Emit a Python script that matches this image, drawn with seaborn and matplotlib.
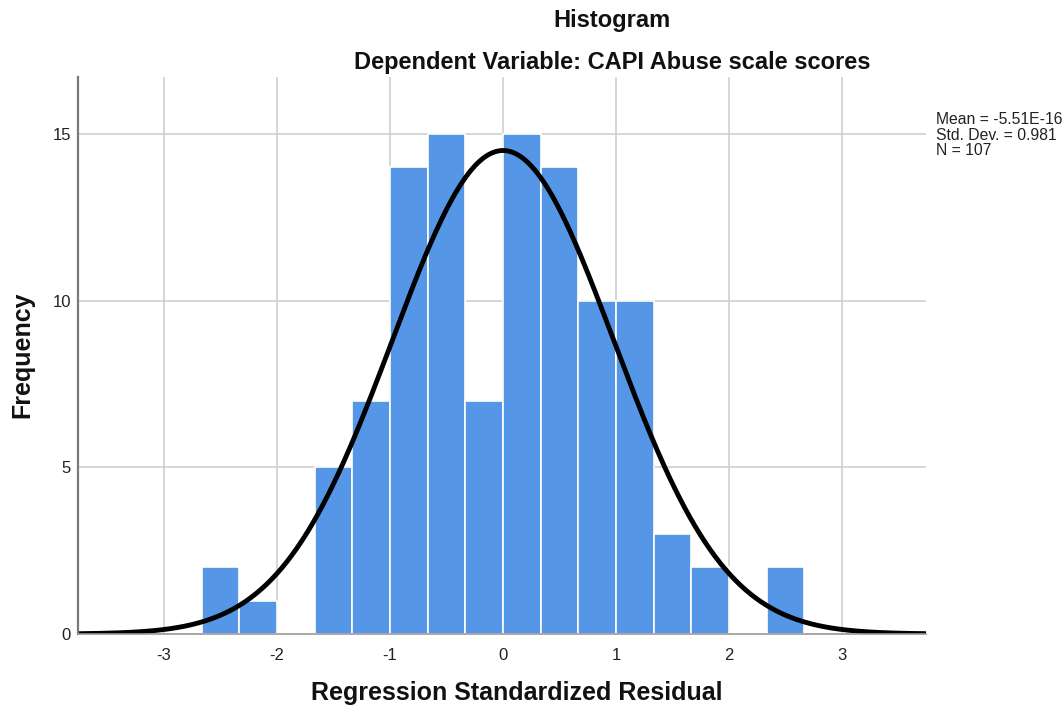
import numpy as np
import pandas as pd
import matplotlib
matplotlib.use("Agg")
import matplotlib.pyplot as plt
import seaborn as sns

# Data
bin_edges = [-8/3, -7/3, -2, -5/3, -4/3, -1, -2/3, -1/3, 0, 1/3, 2/3, 1, 4/3, 5/3, 2, 7/3, 8/3]
counts = [2, 1, 0, 5, 7, 14, 15, 7, 15, 14, 10, 10, 3, 2, 0, 2]
mean_val = -5.51e-16
std_val = 0.981
n_val = 107
x_ticks = [-3, -2, -1, 0, 1, 2, 3]
y_ticks = [0, 5, 10, 15]

sns.set_theme(style="white")
plt.rcParams['font.family'] = ['Liberation Sans', 'DejaVu Sans']

edges = np.array(bin_edges)
centers = (edges[:-1] + edges[1:]) / 2
df = pd.DataFrame({"resid": centers, "count": counts})

fig = plt.figure(figsize=(10.64, 7.08), dpi=100)
ax = fig.add_axes([78/1064, 1 - 634/708, (926-78)/1064, (634-77)/708])

ax.set_axisbelow(True)
ax.grid(True, color="#cccccc", linewidth=1.1)

sns.histplot(data=df, x="resid", weights="count", bins=list(bin_edges), ax=ax,
             color="#5596e6", alpha=1.0, edgecolor="white", linewidth=1.2)

xlim = (-3.761, 3.743)
xs = np.linspace(xlim[0], xlim[1], 500)
bw = edges[1] - edges[0]
ys = n_val * bw * np.exp(-0.5 * ((xs - mean_val) / std_val) ** 2) / (std_val * np.sqrt(2 * np.pi))
sns.lineplot(x=xs, y=ys, ax=ax, color="black", linewidth=3.5)

ax.set_xlim(*xlim)
ax.set_ylim(0, 16.71)
ax.set_xticks(x_ticks)
ax.set_xticklabels([str(t) for t in x_ticks])
ax.set_yticks(y_ticks)
ax.set_yticklabels([str(t) for t in y_ticks])
ax.tick_params(axis="both", length=0, labelsize=12, colors="#222222")
ax.tick_params(axis="y", pad=5)
ax.tick_params(axis="x", pad=10)

for s in ["top", "right"]:
    ax.spines[s].set_visible(False)
ax.spines["left"].set_color("#7a7a7a")
ax.spines["left"].set_linewidth(1.6)
ax.spines["bottom"].set_color("#9a9a9a")
ax.spines["bottom"].set_linewidth(1.2)

ax.set_xlabel("")
ax.set_ylabel("")
fig.text(517/1064, 1 - 693/708, "Regression Standardized Residual", ha="center", va="center",
         fontsize=18, fontweight="bold", color="#111111")
fig.text(22/1064, 1 - 355/708, "Frequency", ha="center", va="center", rotation=90,
         fontsize=18, fontweight="bold", color="#111111")

fig.text(612/1064, 1 - 20/708, "Histogram", ha="center", va="center",
         fontsize=17, fontweight="bold", color="#111111")
fig.text(612/1064, 1 - 62/708, "Dependent Variable: CAPI Abuse scale scores", ha="center", va="center",
         fontsize=17, fontweight="bold", color="#111111")

fig.text(936/1064, 1 - 112/708, "Mean = -5.51E-16\nStd. Dev. = 0.981\nN = 107", ha="left", va="top",
         fontsize=11.3, color="#222222", linespacing=1.05)

fig.savefig("out.png", dpi=100)
